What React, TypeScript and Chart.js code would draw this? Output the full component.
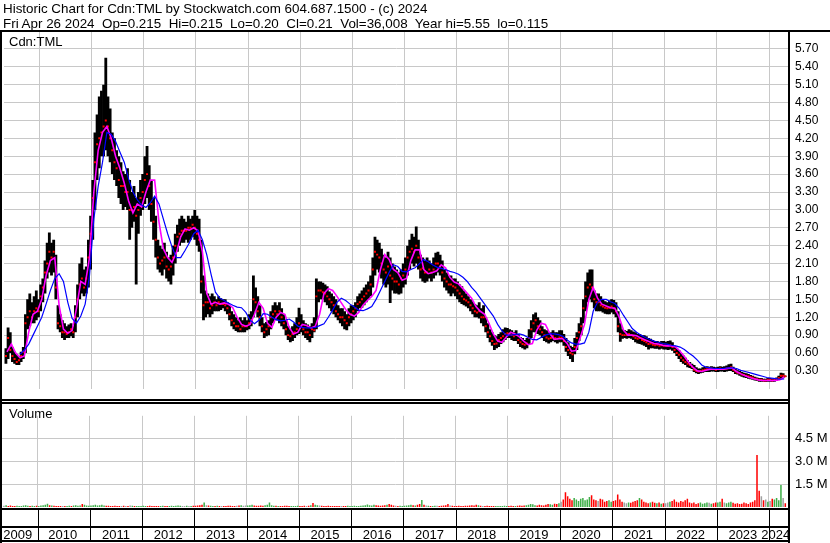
import React, { useEffect, useRef } from 'react';
import { Chart, registerables } from 'chart.js';
Chart.register(...registerables);

// ---- axis / labels ----
const titleLine1 = 'Historic Chart for Cdn:TML by Stockwatch.com 604.687.1500 - (c) 2024';
const titleLine2 = 'Fri Apr 26 2024  Op=0.215  Hi=0.215  Lo=0.20  Cl=0.21  Vol=36,008  Year hi=5.55  lo=0.115';
const symbolLabel = 'Cdn:TML';
const volumeLabel = 'Volume';
const X_MIN = 2009.317; // first trading day shown (late Apr 2009)
const X_MAX = 2024.383; // Apr 26 2024
const yearLabels = ['2009','2010','2011','2012','2013','2014','2015','2016','2017','2018','2019','2020','2021','2022','2023','2024'];
const yearLabelPos = [2009.62,2010.48,2011.5,2012.5,2013.5,2014.5,2015.5,2016.5,2017.5,2018.5,2019.5,2020.5,2021.5,2022.5,2023.5,2024.13];
const yearBoundaries = [2010,2011,2012,2013,2014,2015,2016,2017,2018,2019,2020,2021,2022,2023,2024];
const priceTicks = [0.3,0.6,0.9,1.2,1.5,1.8,2.1,2.4,2.7,3.0,3.3,3.6,3.9,4.2,4.5,4.8,5.1,5.4,5.7];
const volumeTicks = [1.5,3.0,4.5];

// ---- data: half-month periods starting May 2009 ----
const seriesStart = 2009.333;
const priceHigh = [
  0.68,1.03,0.95,0.7,0.62,0.58,0.55,0.62,0.7,1.25,1.5,1.6,1.45,1.55,1.65,1.5,
  1.75,1.85,2.15,2.45,2.62,2.45,2.5,2.25,1.4,1.25,1.15,1.1,1.05,1.08,1.1,1.05,1.4,1.75,2.1,2.2,2.0,2.05,2.5,2.9,
  3.5,4.3,4.6,4.9,5.0,5.1,5.55,4.9,4.7,4.3,4.2,4.0,3.9,3.8,3.65,3.6,3.7,3.5,3.3,3.4,3.2,3.3,3.5,3.6,
  3.9,4.07,3.75,3.5,3.2,2.9,2.5,2.4,2.35,2.45,2.3,2.2,2.25,2.4,2.6,2.75,2.85,2.9,2.85,2.8,2.9,2.85,2.9,3.0,
  2.9,2.85,2.5,1.9,1.65,1.6,1.55,1.6,1.55,1.5,1.55,1.52,1.5,1.5,1.45,1.4,1.3,1.25,1.2,1.15,1.2,1.15,1.2,1.15,
  1.25,1.3,1.9,1.7,1.55,1.4,1.2,1.1,1.12,1.15,1.3,1.4,1.45,1.4,1.45,1.35,1.25,1.15,1.05,1.0,1.05,1.1,1.2,1.36,
  1.25,1.15,1.1,1.08,1.05,1.1,1.2,1.85,1.8,1.8,1.78,1.75,1.72,1.63,1.6,1.55,1.5,1.4,1.35,1.35,1.3,1.25,1.35,1.4,
  1.4,1.45,1.55,1.6,1.65,1.7,1.75,1.8,1.9,2.2,2.55,2.5,2.45,2.35,2.25,2.2,2.3,2.2,2.1,2.05,2.0,1.95,2.0,2.1,
  2.2,2.4,2.5,2.6,2.55,2.72,2.5,2.25,2.2,2.15,2.2,2.15,2.1,2.2,2.28,2.3,2.25,2.15,2.0,1.95,1.9,1.9,1.85,1.85,
  1.8,1.75,1.72,1.65,1.6,1.55,1.5,1.47,1.42,1.4,1.45,1.35,1.4,1.2,1.1,1.0,0.95,0.9,0.88,0.92,0.95,1.0,1.03,1.02,
  1.0,0.98,0.95,0.98,0.92,0.87,0.85,0.82,0.85,1.0,1.15,1.25,1.28,1.2,1.15,1.05,1.0,0.98,0.95,0.95,0.98,0.95,0.95,0.98,
  0.98,0.92,0.85,0.78,0.72,0.7,0.85,0.95,1.1,1.2,1.5,1.8,1.95,2.0,2.0,1.65,1.6,1.6,1.55,1.5,1.47,1.45,1.48,1.5,
  1.49,1.45,1.3,1.1,1.0,0.98,0.97,1.0,0.98,0.96,0.95,0.92,0.92,0.9,0.9,0.88,0.85,0.84,0.82,0.8,0.8,0.79,0.8,0.8,
  0.79,0.8,0.81,0.78,0.72,0.68,0.65,0.6,0.56,0.52,0.48,0.45,0.42,0.4,0.36,0.34,0.34,0.36,0.37,0.38,0.37,0.38,0.37,0.36,
  0.37,0.38,0.37,0.38,0.39,0.41,0.42,0.37,0.33,0.31,0.3,0.28,0.27,0.26,0.25,0.23,0.22,0.2,0.19,0.18,0.18,0.17,0.17,0.18,
  0.18,0.17,0.18,0.19,0.22,0.27,0.26,0.215,
];
const priceLow = [
  0.42,0.5,0.6,0.45,0.42,0.4,0.4,0.45,0.5,0.6,1.0,1.05,1.1,1.1,1.15,1.2,
  1.3,1.45,1.6,1.85,1.95,1.9,1.95,1.5,1.0,0.95,0.85,0.82,0.85,0.85,0.88,0.85,0.95,1.2,1.5,1.6,1.55,1.6,1.7,2.0,
  2.5,3.0,3.5,3.7,3.9,3.9,4.0,3.9,3.8,3.6,3.5,3.4,3.2,3.1,3.0,3.05,3.0,2.5,2.7,2.8,1.75,2.6,2.9,3.0,
  3.1,3.2,3.0,2.8,2.5,2.2,2.0,1.95,1.9,2.0,1.85,1.8,1.75,1.9,2.1,2.3,2.4,2.45,2.45,2.5,2.45,2.5,2.55,2.5,
  2.4,2.3,1.6,1.15,1.2,1.25,1.2,1.25,1.3,1.3,1.3,1.32,1.35,1.3,1.25,1.15,1.05,1.0,0.97,0.95,0.95,0.95,0.95,0.98,
  1.0,1.05,1.2,1.3,1.2,1.05,0.95,0.85,0.88,0.9,1.0,1.1,1.15,1.15,1.1,1.05,1.0,0.9,0.82,0.78,0.8,0.85,0.9,0.92,
  0.95,0.9,0.85,0.82,0.78,0.85,0.95,1.0,1.45,1.5,1.5,1.45,1.4,1.35,1.3,1.25,1.2,1.15,1.1,1.05,1.0,0.98,1.05,1.1,
  1.15,1.2,1.3,1.35,1.36,1.4,1.45,1.5,1.55,1.7,1.9,2.0,1.95,1.85,1.75,1.7,1.75,1.44,1.65,1.6,1.6,1.58,1.6,1.7,
  1.75,1.9,2.0,2.1,2.05,2.1,2.0,1.85,1.8,1.78,1.8,1.85,1.8,1.85,1.9,1.95,1.9,1.8,1.7,1.65,1.6,1.55,1.6,1.55,
  1.5,1.45,1.42,1.4,1.38,1.35,1.3,1.25,1.2,1.2,1.18,1.1,1.05,0.95,0.85,0.78,0.72,0.65,0.68,0.7,0.75,0.78,0.82,0.85,
  0.85,0.82,0.8,0.8,0.75,0.7,0.68,0.66,0.68,0.75,0.85,0.95,0.95,0.92,0.9,0.85,0.8,0.78,0.76,0.78,0.8,0.78,0.76,0.78,
  0.78,0.72,0.62,0.55,0.5,0.45,0.58,0.65,0.8,0.9,1.1,1.3,1.45,1.5,1.45,1.35,1.3,1.3,1.3,1.28,1.26,1.25,1.25,1.28,
  1.25,1.2,0.95,0.79,0.84,0.85,0.84,0.85,0.84,0.82,0.78,0.76,0.75,0.74,0.72,0.7,0.66,0.68,0.68,0.67,0.67,0.66,0.67,0.66,
  0.66,0.65,0.66,0.64,0.6,0.55,0.5,0.45,0.42,0.4,0.36,0.35,0.33,0.28,0.26,0.25,0.26,0.27,0.28,0.28,0.28,0.29,0.29,0.28,
  0.28,0.29,0.29,0.28,0.29,0.3,0.3,0.28,0.25,0.24,0.22,0.2,0.19,0.18,0.17,0.16,0.15,0.14,0.13,0.12,0.12,0.12,0.115,0.12,
  0.12,0.12,0.12,0.13,0.15,0.17,0.18,0.2,
];
const priceClose = [
  0.55,0.85,0.65,0.55,0.5,0.45,0.48,0.55,0.62,1.1,1.2,1.3,1.2,1.3,1.35,1.3,
  1.55,1.7,1.95,2.1,2.3,2.2,2.3,1.7,1.1,1.05,0.95,0.95,0.92,0.95,1.0,0.95,1.2,1.5,1.75,1.85,1.7,1.85,2.2,2.6,
  3.2,3.8,4.1,4.2,4.3,4.4,4.5,4.4,4.2,4.0,3.8,3.7,3.5,3.4,3.4,3.3,3.3,3.0,3.0,3.05,2.9,3.0,3.2,3.3,
  3.5,3.6,3.4,3.1,2.8,2.5,2.2,2.1,2.15,2.2,2.05,2.0,2.05,2.2,2.4,2.55,2.6,2.65,2.65,2.65,2.7,2.7,2.75,2.7,
  2.6,2.5,1.8,1.4,1.45,1.45,1.35,1.4,1.45,1.4,1.45,1.42,1.42,1.4,1.35,1.25,1.15,1.1,1.05,1.05,1.0,1.05,1.05,1.05,
  1.1,1.15,1.5,1.45,1.3,1.2,1.05,0.95,1.0,1.05,1.2,1.25,1.3,1.25,1.3,1.2,1.1,1.0,0.9,0.88,0.92,0.95,1.0,1.1,
  1.05,1.0,0.95,0.95,0.9,1.0,0.98,1.55,1.65,1.65,1.62,1.6,1.55,1.5,1.45,1.4,1.3,1.25,1.2,1.2,1.15,1.1,1.2,1.25,
  1.3,1.35,1.42,1.45,1.5,1.55,1.6,1.65,1.75,2.0,2.3,2.25,2.2,2.1,2.0,1.95,2.05,1.9,1.85,1.8,1.8,1.75,1.85,1.9,
  2.0,2.2,2.3,2.35,2.3,2.4,2.2,2.0,2.02,1.95,1.95,2.0,1.95,2.0,2.1,2.1,2.05,1.95,1.85,1.8,1.75,1.75,1.72,1.7,
  1.65,1.6,1.55,1.5,1.48,1.45,1.4,1.35,1.3,1.28,1.3,1.2,1.2,1.05,0.95,0.88,0.8,0.75,0.76,0.82,0.85,0.88,0.92,0.93,
  0.92,0.9,0.88,0.9,0.82,0.78,0.75,0.74,0.76,0.85,1.0,1.1,1.15,1.05,1.0,0.95,0.9,0.86,0.84,0.85,0.88,0.85,0.84,0.86,
  0.86,0.8,0.7,0.65,0.6,0.58,0.7,0.85,0.95,1.05,1.35,1.55,1.7,1.75,1.7,1.5,1.45,1.45,1.4,1.38,1.36,1.35,1.36,1.38,
  1.35,1.3,1.05,0.92,0.9,0.9,0.9,0.92,0.9,0.88,0.85,0.84,0.85,0.82,0.8,0.78,0.75,0.76,0.74,0.73,0.74,0.72,0.73,0.72,
  0.72,0.72,0.73,0.7,0.65,0.6,0.57,0.52,0.48,0.45,0.42,0.4,0.37,0.32,0.3,0.29,0.3,0.31,0.32,0.33,0.33,0.34,0.33,0.32,
  0.33,0.34,0.33,0.33,0.34,0.35,0.36,0.32,0.29,0.27,0.26,0.24,0.23,0.22,0.21,0.2,0.19,0.17,0.16,0.15,0.15,0.14,0.14,0.15,
  0.15,0.14,0.15,0.16,0.18,0.22,0.22,0.21,
];
// volume in millions, half-month periods
const volumeM = [
  0.08,0.12,0.06,0.1,0.05,0.07,0.09,0.05,0.06,0.1,0.12,0.08,0.07,0.09,0.06,0.08,
  0.07,0.1,0.12,0.15,0.22,0.12,0.1,0.08,0.06,0.05,0.07,0.06,0.05,0.06,0.08,0.07,0.1,0.12,0.09,0.1,0.2,0.15,0.1,0.08,
  0.1,0.12,0.15,0.1,0.12,0.14,0.1,0.08,0.09,0.07,0.06,0.08,0.07,0.06,0.07,0.09,0.06,0.07,0.1,0.08,0.06,0.07,0.05,0.06,
  0.08,0.06,0.07,0.09,0.06,0.07,0.05,0.06,0.07,0.08,0.06,0.05,0.06,0.08,0.07,0.09,0.1,0.08,0.07,0.06,0.08,0.06,0.07,0.09,
  0.08,0.1,0.12,0.15,0.3,0.12,0.1,0.08,0.06,0.07,0.08,0.06,0.05,0.07,0.06,0.08,0.09,0.07,0.06,0.08,0.1,0.12,0.09,0.1,
  0.1,0.12,0.15,0.1,0.08,0.09,0.1,0.08,0.12,0.15,0.3,0.12,0.09,0.08,0.07,0.06,0.07,0.09,0.08,0.06,0.07,0.05,0.06,0.08,
  0.07,0.06,0.08,0.07,0.09,0.12,0.27,0.15,0.12,0.1,0.08,0.07,0.06,0.08,0.07,0.06,0.05,0.06,0.07,0.05,0.06,0.07,0.08,0.06,
  0.07,0.08,0.06,0.07,0.08,0.1,0.12,0.16,0.12,0.1,0.14,0.12,0.1,0.08,0.1,0.12,0.15,0.2,0.15,0.1,0.08,0.07,0.08,0.06,
  0.08,0.1,0.12,0.15,0.12,0.1,0.14,0.2,0.46,0.15,0.1,0.08,0.07,0.06,0.08,0.09,0.07,0.08,0.1,0.12,0.2,0.1,0.08,0.07,
  0.07,0.08,0.06,0.07,0.09,0.08,0.1,0.12,0.1,0.15,0.12,0.08,0.07,0.06,0.08,0.07,0.06,0.07,0.05,0.06,0.07,0.06,0.08,0.07,
  0.07,0.08,0.06,0.07,0.08,0.1,0.09,0.1,0.12,0.15,0.2,0.18,0.12,0.1,0.15,0.12,0.1,0.14,0.2,0.18,0.15,0.22,0.2,0.25,
  0.35,0.5,0.97,0.7,0.55,0.45,0.6,0.5,0.4,0.55,0.6,0.45,0.5,0.65,0.78,0.5,0.45,0.4,0.55,0.5,0.35,0.4,0.45,0.35,
  0.4,0.45,0.82,0.5,0.35,0.3,0.25,0.3,0.28,0.35,0.4,0.45,0.6,0.5,0.35,0.3,0.25,0.3,0.35,0.28,0.25,0.3,0.22,0.25,
  0.25,0.3,0.35,0.4,0.5,0.35,0.3,0.4,0.35,0.45,0.55,0.3,0.25,0.3,0.2,0.25,0.3,0.22,0.25,0.3,0.28,0.22,0.25,0.3,
  0.3,0.35,0.55,0.3,0.25,0.3,0.35,0.28,0.22,0.25,0.2,0.22,0.3,0.25,0.2,0.3,0.35,0.45,3.42,1.07,0.7,0.45,0.5,0.35,
  0.4,0.55,0.5,0.6,0.45,1.45,0.6,0.25,
];
// moving averages, monthly from May 2009
const maShort = [
  0.62,0.75,0.6,0.52,0.55,0.95,1.25,1.3,
  1.5,1.9,2.15,2.2,1.4,1.0,0.93,0.98,1.35,1.8,1.75,2.2,
  3.3,4.0,4.3,4.4,4.2,3.9,3.7,3.45,3.15,2.95,3.1,3.05,
  3.3,3.5,3.5,2.8,2.35,2.2,2.12,2.28,2.55,2.68,2.66,2.7,
  2.65,2.3,1.6,1.42,1.45,1.42,1.44,1.42,1.36,1.2,1.08,1.05,
  1.08,1.25,1.45,1.35,1.1,1.03,1.2,1.28,1.25,1.03,0.92,0.95,
  1.08,1.06,1.02,1.05,1.25,1.6,1.68,1.65,1.55,1.44,1.33,1.25,
  1.22,1.28,1.4,1.48,1.55,1.65,2.0,2.25,2.17,2.0,1.95,1.82,
  1.85,2.15,2.33,2.33,2.0,1.93,1.95,1.98,2.08,2.03,1.87,1.79,
  1.76,1.68,1.6,1.52,1.38,1.3,1.25,1.1,0.92,0.8,0.78,0.87,
  0.95,0.92,0.87,0.8,0.74,0.76,0.98,1.1,1.08,0.93,0.83,0.84,
  0.84,0.76,0.63,0.64,0.85,1.08,1.5,1.7,1.52,1.42,1.39,1.36,
  1.35,1.2,0.98,0.9,0.9,0.89,0.85,0.82,0.79,0.76,0.75,0.73,
  0.72,0.72,0.7,0.63,0.54,0.44,0.36,0.3,0.29,0.31,0.33,0.33,
  0.33,0.33,0.34,0.35,0.29,0.25,0.22,0.19,0.17,0.15,0.14,0.14,
  0.14,0.14,0.15,0.2,
];
const maLong = [
  null,null,null,0.58,0.65,0.75,0.9,1.05,
  1.2,1.42,1.65,1.85,1.93,1.8,1.45,1.18,1.1,1.22,1.42,1.9,
  2.85,3.4,3.8,4.3,4.27,4.15,3.97,3.8,3.52,3.3,3.17,3.08,
  3.04,3.12,3.23,3.1,2.85,2.6,2.38,2.2,2.2,2.32,2.45,2.6,
  2.66,2.5,2.25,1.92,1.62,1.52,1.48,1.44,1.4,1.37,1.36,1.28,
  1.15,1.09,1.15,1.26,1.25,1.2,1.16,1.14,1.15,1.17,1.12,1.05,
  1.03,1.02,1.02,1.03,1.06,1.09,1.2,1.32,1.45,1.52,1.48,1.42,
  1.37,1.32,1.31,1.34,1.38,1.5,1.65,1.8,1.95,2.08,2.05,1.97,
  1.96,2.0,2.03,2.1,2.17,2.13,2.08,2.04,2.02,2.0,1.97,1.95,
  1.92,1.87,1.8,1.7,1.62,1.52,1.42,1.32,1.22,1.08,0.97,0.9,
  0.9,0.91,0.92,0.9,0.86,0.83,0.82,0.86,0.9,0.92,0.92,0.91,
  0.88,0.82,0.77,0.75,0.75,0.77,0.95,1.3,1.45,1.5,1.5,1.46,
  1.43,1.35,1.23,1.12,1.01,0.95,0.9,0.86,0.83,0.8,0.78,0.76,
  0.75,0.73,0.72,0.7,0.66,0.6,0.55,0.48,0.4,0.36,0.35,0.34,
  0.34,0.34,0.35,0.35,0.34,0.31,0.29,0.27,0.25,0.23,0.21,0.19,
  0.18,0.17,0.16,0.165,
];

const FONT = '"Liberation Sans", Arial, Helvetica, sans-serif';
const GRID = '#c8c8c8';
const UP = '#3fae49';
const DOWN = '#ff0000';
const FLAT = '#a0a0a0';

const halfMonthX = (k: number) => seriesStart + (k + 0.5) / 24;
const monthX = (m: number) => seriesStart + (m + 0.5) / 12;

const gridAxis = () => ({
  type: 'linear' as const,
  min: X_MIN,
  max: X_MAX,
  offset: false,
  position: 'bottom' as const,
  grid: { color: GRID, drawTicks: false, lineWidth: 1, offset: false },
  ticks: { display: false },
  border: { display: false },
  afterBuildTicks: (s: any) => { s.ticks = yearBoundaries.map((v) => ({ value: v })); },
  afterFit: (s: any) => { s.height = 0; s.paddingLeft = 0; s.paddingRight = 0; },
});

export default function App() {
  const priceRef = useRef<HTMLCanvasElement>(null);
  const volRef = useRef<HTMLCanvasElement>(null);

  useEffect(() => {
    document.body.style.margin = '0';
    Chart.defaults.font.family = FONT;
    Chart.defaults.color = '#000';

    const framePrice = {
      id: 'framePrice',
      afterDraw(chart: any) {
        const c = chart.ctx;
        c.save();
        c.fillStyle = '#000';
        c.fillRect(0, 30, 830, 2);
        c.fillRect(0, 30, 2, 372);
        c.fillRect(788, 30, 2, 372);
        c.fillRect(0, 399, 790, 2);
        c.restore();
      },
    };
    const frameVol = {
      id: 'frameVol',
      afterDraw(chart: any) {
        const c = chart.ctx;
        const xs = chart.scales.xg;
        c.save();
        c.fillStyle = '#000';
        c.fillRect(0, 0, 790, 2);
        c.fillRect(0, 0, 2, 141);
        c.fillRect(788, 0, 2, 141);
        c.fillRect(0, 106, 790, 2);
        c.fillRect(0, 124, 790, 2);
        c.fillRect(0, 138, 790, 2);
        yearBoundaries.forEach((y) => {
          const px = Math.round(xs.getPixelForValue(y));
          c.fillRect(px, 106, 1, 34);
        });
        c.restore();
      },
    };

    const rangeData = priceHigh.map((h, k) => ({ x: halfMonthX(k), y: [priceLow[k], h] }));
    const closeData = priceClose.map((v, k) => ({ x: halfMonthX(k), y: v }));
    const shortData = maShort.map((v, m) => ({ x: monthX(m), y: v }));
    const longData = maLong
      .map((v, m) => ({ x: monthX(m), y: v }))
      .filter((p) => p.y !== null);

    const pc = new Chart(priceRef.current as HTMLCanvasElement, {
      type: 'bar',
      data: {
        datasets: [
          { type: 'line', data: longData as any, borderColor: '#0000ff', borderWidth: 1.2, pointRadius: 0, tension: 0, order: 0 },
          { type: 'line', data: shortData as any, borderColor: '#ff00ff', borderWidth: 1.6, pointRadius: 0, tension: 0, order: 1 },
          { type: 'line', data: closeData as any, showLine: false, pointStyle: 'rect', pointRadius: 1.4, pointBorderWidth: 0, pointBackgroundColor: '#ff0000', order: 2 },
          { type: 'bar', data: rangeData as any, backgroundColor: '#000000', barPercentage: 1.3, categoryPercentage: 1, minBarLength: 1, order: 3 },
        ],
      },
      options: {
        animation: false,
        responsive: false,
        maintainAspectRatio: false,
        devicePixelRatio: 1,
        events: [],
        layout: { padding: { left: 2, top: 31, right: 0, bottom: 2 } },
        plugins: { legend: { display: false }, tooltip: { enabled: false } },
        scales: {
          x: {
            type: 'linear', min: X_MIN, max: X_MAX, position: 'bottom', offset: false,
            grid: { display: false, offset: false }, ticks: { display: false }, border: { display: false },
            afterFit: (s: any) => { s.height = 0; s.paddingLeft = 0; s.paddingRight = 0; },
          },
          xg: gridAxis() as any,
          y: {
            position: 'right', min: 0, max: 6,
            afterBuildTicks: (s: any) => { s.ticks = priceTicks.map((v) => ({ value: v })); },
            ticks: { callback: (v: any) => Number(v).toFixed(2), color: '#000', font: { size: 12, family: FONT }, padding: 6 },
            grid: { color: GRID, drawTicks: false },
            border: { display: false },
            afterFit: (s: any) => { s.width = 41; },
          },
        },
      } as any,
      plugins: [framePrice],
    });

    const volColors = volumeM.map((_, k) => {
      if (k === 0) return FLAT;
      if (priceClose[k] > priceClose[k - 1]) return UP;
      if (priceClose[k] < priceClose[k - 1]) return DOWN;
      return FLAT;
    });
    const volData = volumeM.map((v, k) => ({ x: halfMonthX(k), y: v }));

    const vc = new Chart(volRef.current as HTMLCanvasElement, {
      type: 'bar',
      data: {
        datasets: [
          { data: volData as any, backgroundColor: volColors, barPercentage: 0.7, categoryPercentage: 1, minBarLength: 1 },
        ],
      },
      options: {
        animation: false,
        responsive: false,
        maintainAspectRatio: false,
        devicePixelRatio: 1,
        events: [],
        layout: { padding: { left: 2, top: 2, right: 0, bottom: 0 } },
        plugins: { legend: { display: false }, tooltip: { enabled: false } },
        scales: {
          x: {
            type: 'linear', min: X_MIN, max: X_MAX, position: 'bottom', offset: false,
            afterBuildTicks: (s: any) => { s.ticks = yearLabelPos.map((v) => ({ value: v })); },
            ticks: {
              callback: (_v: any, i: number) => yearLabels[i],
              autoSkip: false, maxRotation: 0, minRotation: 0,
              color: '#000', font: { size: 13, family: FONT }, padding: 13,
            },
            grid: { display: false, offset: false },
            border: { display: false },
            afterFit: (s: any) => { s.height = 36; s.paddingLeft = 0; s.paddingRight = 0; },
          },
          xg: gridAxis() as any,
          y: {
            position: 'right', min: 0, max: 6,
            afterBuildTicks: (s: any) => { s.ticks = volumeTicks.map((v) => ({ value: v })); },
            ticks: { callback: (v: any) => `${Number(v).toFixed(1)} M`, color: '#000', font: { size: 13, family: FONT }, padding: 6 },
            grid: { color: GRID, drawTicks: false },
            border: { display: false },
            afterFit: (s: any) => { s.width = 41; },
          },
        },
      } as any,
      plugins: [frameVol],
    });

    return () => { pc.destroy(); vc.destroy(); };
  }, []);

  return (
    <div style={{ position: 'fixed', left: 0, top: 0, width: 830, height: 543, background: '#fff', overflow: 'hidden', fontFamily: FONT, color: '#000' }}>
      <canvas ref={priceRef} width={830} height={402} style={{ position: 'absolute', left: 0, top: 0, width: 830, height: 402 }} />
      <canvas ref={volRef} width={830} height={141} style={{ position: 'absolute', left: 0, top: 402, width: 830, height: 141 }} />
      <div style={{ position: 'absolute', left: 3, top: 1, fontSize: '13.4px', lineHeight: '15px', whiteSpace: 'pre' }}>
        {titleLine1 + '\n' + titleLine2}
      </div>
      <div style={{ position: 'absolute', left: 9, top: 34, fontSize: '13px', lineHeight: '15px', whiteSpace: 'pre' }}>
        {symbolLabel}
      </div>
      <div style={{ position: 'absolute', left: 9, top: 406, fontSize: '13px', lineHeight: '15px', whiteSpace: 'pre' }}>
        {volumeLabel}
      </div>
    </div>
  );
}
